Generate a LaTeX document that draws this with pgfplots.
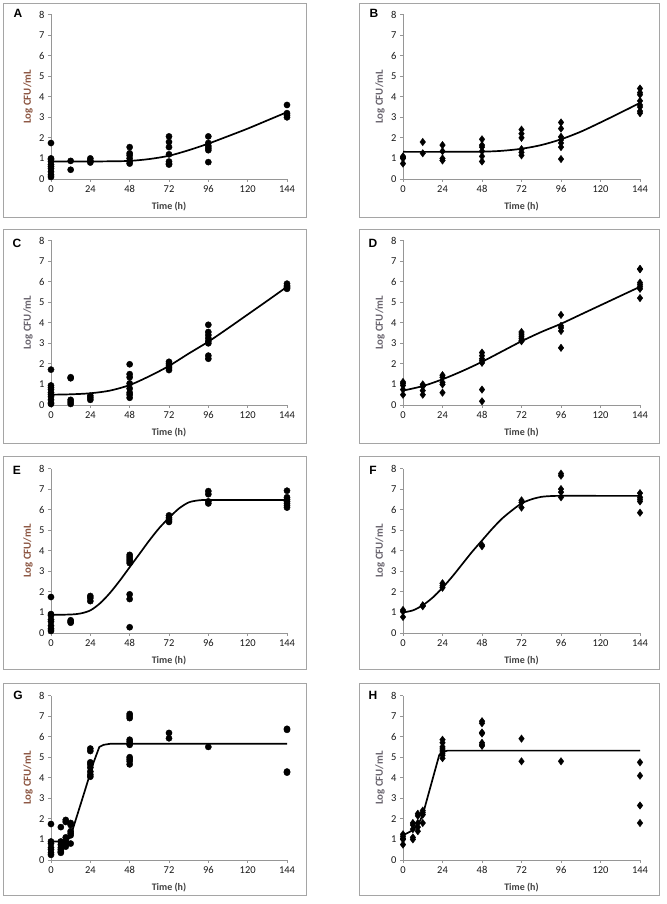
\documentclass[border=0pt]{standalone}
\usepackage{pgfplots}
\pgfplotsset{compat=1.18}
\usepackage{fontspec}
\setmainfont{Carlito}
\newfontfamily\arialfont{Liberation Sans}
\definecolor{axisgray}{RGB}{150,150,150}
\definecolor{framegray}{RGB}{165,165,165}
\definecolor{labbrown}{RGB}{140,85,65}
\definecolor{labgray}{RGB}{105,100,110}
\pgfplotsset{panel/.style={
  scale only axis, width=236pt, height=164.5pt,
  xmin=0, xmax=144, ymin=0, ymax=8,
  xtick={0,24,48,72,96,120,144}, ytick={0,1,2,3,4,5,6,7,8},
  axis lines*=left,
  axis line style={draw=axisgray, line width=0.8pt},
  tick style={draw=axisgray, line width=0.8pt},
  tick align=outside, major tick length=3pt,
  tick label style={font=\fontsize{10.5}{12}\selectfont, text=black!90},
  /pgf/number format/assume math mode=true,
  xlabel={Time (h)}, ylabel={Log CFU/mL},
  xlabel style={font=\bfseries\fontsize{10}{12}\selectfont, text=black!75, at={(axis description cs:0.5,-0.17)}, anchor=center},
  ylabel style={font=\bfseries\fontsize{10.8}{12}\selectfont, at={(axis description cs:-0.097,0.5)}, anchor=center},
  clip=false, anchor=south west,
},
pts/.style={only marks, mark=*, mark size=3.1pt, black},
dia/.style={only marks, mark=diamond*, mark size=3.7pt, black},
fit/.style={black, line width=1.7pt, no marks},
}
\begin{document}
\begin{tikzpicture}
\useasboundingbox (0pt,0pt) rectangle (666pt,904pt);
\fill[white] (0pt,0pt) rectangle (666pt,904pt);
\foreach \yb/\yt in {686/900,460/674,234/447,8/220}{
  \draw[framegray, line width=1pt] (3pt,\yb pt) rectangle (306pt,\yt pt);
  \draw[framegray, line width=1pt] (359pt,\yb pt) rectangle (659pt,\yt pt);
}
\node[font=\arialfont\bfseries\fontsize{12}{14}\selectfont] at (18pt,891pt) {A};
\node[font=\arialfont\bfseries\fontsize{12}{14}\selectfont] at (374pt,891pt) {B};
\node[font=\arialfont\bfseries\fontsize{12}{14}\selectfont] at (17pt,661pt) {C};
\node[font=\arialfont\bfseries\fontsize{12}{14}\selectfont] at (373pt,661pt) {D};
\node[font=\arialfont\bfseries\fontsize{12}{14}\selectfont] at (17pt,434pt) {E};
\node[font=\arialfont\bfseries\fontsize{12}{14}\selectfont] at (373pt,434pt) {F};
\node[font=\arialfont\bfseries\fontsize{12}{14}\selectfont] at (18pt,209pt) {G};
\node[font=\arialfont\bfseries\fontsize{12}{14}\selectfont] at (373pt,209pt) {H};

% ---------- A ----------
\begin{axis}[panel, at={(51pt,725pt)}, ylabel style={text=labbrown}]
\addplot[fit, smooth] coordinates {(0,0.85)(12,0.85)(24,0.85)(36,0.86)(48,0.88)(60,0.97)(72,1.13)(84,1.4)(96,1.72)(108,2.08)(120,2.45)(132,2.85)(144,3.25)};
\addplot[pts] table {
x y
0 1.75
0 1.0
0 0.95
0 0.85
0 0.7
0 0.6
0 0.5
0 0.35
0 0.2
0 0.1
12 0.88
12 0.45
24 1.0
24 0.9
24 0.8
48 1.55
48 1.25
48 1.15
48 1.0
48 0.85
48 0.75
72 2.07
72 1.8
72 1.55
72 1.2
72 0.85
72 0.75
72 0.7
96 2.07
96 1.75
96 1.6
96 1.5
96 1.4
96 0.82
144 3.6
144 3.2
144 3.1
144 3.0
};
\end{axis}

% ---------- B ----------
\begin{axis}[panel, width=237pt, at={(403pt,725pt)}, ylabel style={text=labgray}]
\addplot[fit, smooth] coordinates {(0,1.32)(24,1.32)(48,1.33)(60,1.37)(72,1.47)(84,1.65)(96,1.93)(108,2.3)(120,2.75)(132,3.22)(144,3.7)};
\addplot[dia] table {
x y
0 1.1
0 1.05
0 1.0
0 0.75
12 1.8
12 1.25
24 1.65
24 1.35
24 1.0
24 0.9
48 1.93
48 1.65
48 1.55
48 1.35
48 1.1
48 0.85
72 2.4
72 2.2
72 2.0
72 1.45
72 1.3
72 1.15
96 2.75
96 2.45
96 2.05
96 1.9
96 1.75
96 1.55
96 0.97
144 4.4
144 4.2
144 4.1
144 3.8
144 3.6
144 3.5
144 3.3
144 3.2
};
\end{axis}

% ---------- C ----------
\begin{axis}[panel, at={(51pt,499pt)}, ylabel style={text=labgray}]
\addplot[fit, smooth] coordinates {(0,0.5)(12,0.52)(24,0.57)(36,0.7)(48,0.97)(60,1.4)(72,1.9)(84,2.5)(96,3.08)(108,3.73)(120,4.4)(132,5.07)(144,5.75)};
\addplot[pts] table {
x y
0 1.72
0 0.95
0 0.85
0 0.75
0 0.6
0 0.5
0 0.4
0 0.25
0 0.1
0 0.05
12 1.35
12 1.3
12 0.25
12 0.15
12 0.05
24 0.45
24 0.35
24 0.25
48 1.98
48 1.5
48 1.35
48 1.05
48 0.8
48 0.6
48 0.5
48 0.35
72 2.1
72 2.0
72 1.9
72 1.8
72 1.7
96 3.9
96 3.55
96 3.4
96 3.25
96 3.1
96 3.0
96 2.4
96 2.25
144 5.9
144 5.8
144 5.75
144 5.7
144 5.65
};
\end{axis}

% ---------- D ----------
\begin{axis}[panel, width=237pt, at={(403pt,499pt)}, ylabel style={text=labgray}]
\addplot[fit, smooth] coordinates {(0,0.7)(12,0.92)(24,1.25)(36,1.65)(48,2.1)(60,2.6)(72,3.1)(84,3.55)(96,3.95)(108,4.4)(120,4.85)(132,5.3)(144,5.75)};
\addplot[dia] table {
x y
0 1.12
0 1.05
0 0.95
0 0.75
0 0.5
12 1.0
12 0.9
12 0.7
12 0.5
24 1.45
24 1.35
24 1.1
24 1.0
24 0.6
48 2.55
48 2.4
48 2.25
48 2.15
48 2.05
48 0.75
48 0.18
72 3.55
72 3.45
72 3.35
72 3.25
72 3.15
72 3.1
96 4.38
96 3.85
96 3.75
96 3.6
96 2.78
144 6.62
144 6.6
144 5.95
144 5.85
144 5.75
144 5.65
144 5.2
};
\end{axis}

% ---------- E ----------
\begin{axis}[panel, at={(51pt,271pt)}, ylabel style={text=labbrown}]
\addplot[fit, smooth] coordinates {(0,0.88)(12,0.9)(18,0.95)(24,1.1)(30,1.45)(36,1.95)(42,2.55)(48,3.2)(54,3.85)(60,4.5)(66,5.1)(72,5.6)(78,6.05)(84,6.35)(90,6.45)(96,6.47)(120,6.47)(144,6.47)};
\addplot[pts] table {
x y
0 1.75
0 0.92
0 0.85
0 0.65
0 0.55
0 0.35
0 0.2
0 0.1
12 0.62
12 0.55
12 0.5
24 1.8
24 1.7
24 1.55
48 3.8
48 3.7
48 3.6
48 3.5
48 3.4
48 1.88
48 1.65
48 0.28
72 5.72
72 5.6
72 5.5
72 5.4
96 6.9
96 6.75
96 6.4
96 6.3
144 6.92
144 6.6
144 6.5
144 6.4
144 6.3
144 6.2
144 6.1
};
\end{axis}

% ---------- F ----------
\begin{axis}[panel, width=237pt, at={(403pt,271pt)}, ylabel style={text=labgray}]
\addplot[fit, smooth] coordinates {(0,1.0)(6,1.1)(12,1.35)(18,1.72)(24,2.2)(30,2.75)(36,3.35)(42,3.95)(48,4.5)(54,5.05)(60,5.55)(66,5.95)(72,6.3)(78,6.5)(84,6.62)(90,6.66)(96,6.67)(120,6.67)(144,6.67)};
\addplot[dia] table {
x y
0 1.12
0 1.05
0 0.78
12 1.35
12 1.3
24 2.42
24 2.3
24 2.2
48 4.28
48 4.22
72 6.45
72 6.35
72 6.1
96 7.75
96 7.65
96 7.0
96 6.85
96 6.6
144 6.8
144 6.6
144 6.5
144 6.4
144 5.85
};
\end{axis}

% ---------- G ----------
\begin{axis}[panel, at={(51pt,44pt)}, ylabel style={text=labbrown}]
\addplot[fit, sharp plot] coordinates {(0,0.9)(6,0.9)(10,0.95)(12,1.15)(13.7,1.6)(20,3.2)(26,4.75)(29.5,5.5)(32,5.6)(36,5.65)(144,5.65)};
\addplot[pts] table {
x y
0 1.75
0 0.9
0 0.8
0 0.6
0 0.5
0 0.35
0 0.25
6 1.6
6 0.9
6 0.75
6 0.6
6 0.5
6 0.4
6 0.35
9 1.95
9 1.85
9 1.1
9 0.95
9 0.8
9 0.65
12 1.8
12 1.7
12 1.4
12 1.3
12 1.2
12 0.8
24 5.42
24 5.3
24 4.75
24 4.65
24 4.5
24 4.3
24 4.15
24 4.05
48 7.1
48 7.0
48 6.9
48 5.85
48 5.75
48 5.65
48 5.6
48 5.0
48 4.9
48 4.8
48 4.65
72 6.18
72 5.92
96 5.5
144 6.38
144 6.33
144 4.3
144 4.25
};
\end{axis}

% ---------- H ----------
\begin{axis}[panel, width=237pt, at={(403pt,44pt)}, ylabel style={text=labgray}]
\addplot[fit, sharp plot] coordinates {(0,1.2)(6,1.45)(10,1.85)(12,2.2)(22,5.1)(24,5.25)(27,5.32)(144,5.32)};
\addplot[dia] table {
x y
0 1.25
0 1.15
0 1.05
0 1.0
0 0.75
6 1.8
6 1.7
6 1.5
6 1.1
6 1.0
9 2.25
9 2.15
9 1.8
9 1.6
9 1.4
12 2.4
12 2.3
12 2.2
12 1.8
24 5.85
24 5.7
24 5.5
24 5.4
24 5.3
24 5.2
24 5.1
24 4.95
48 6.75
48 6.65
48 6.2
48 6.15
48 5.7
48 5.6
48 5.55
72 5.9
72 4.8
96 4.8
144 4.75
144 4.1
144 2.65
144 1.8
};
\end{axis}
\end{tikzpicture}
\end{document}
